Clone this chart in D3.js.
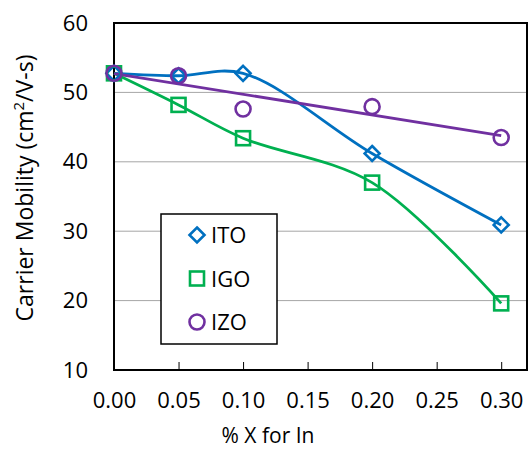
<!DOCTYPE html>
<html><head><meta charset="utf-8">
<script src="https://cdn.jsdelivr.net/npm/d3@7"></script>
<style>body{margin:0;background:#fff}svg{display:block}</style>
</head><body>
<svg id="c" width="530" height="450"></svg>
<script>
const xValues = [0, 0.05, 0.10, 0.20, 0.30];
const itoValues = [52.75, 52.4, 52.75, 41.2, 30.9];
const igoValues = [52.75, 48.2, 43.4, 37.0, 19.6];
const izoValues = [52.75, 52.4, 47.6, 47.95, 43.5];
const xTicks = [0, 0.05, 0.10, 0.15, 0.20, 0.25, 0.30];
const yTicks = [10, 20, 30, 40, 50, 60];
const seriesNames = ["ITO", "IGO", "IZO"];
const seriesColors = ["#0070C0", "#00B050", "#7030A0"];
const xTitle = "% X for In";

const FONT = "'Open Sans', sans-serif";
const m = {left: 114, right: 527, top: 23, bottom: 370};
const svg = d3.select("#c");
const x = d3.scaleLinear().domain([0, 0.32]).range([m.left, m.right]);
const y = d3.scaleLinear().domain([10, 60]).range([m.bottom, m.top]);

// gridlines
svg.append("g").selectAll("line").data(yTicks.filter(v => v > 10 && v < 60)).join("line")
  .attr("x1", m.left).attr("x2", m.right)
  .attr("y1", d => y(d)).attr("y2", d => y(d))
  .attr("stroke", "#A6A6A6").attr("stroke-width", 1);

// x axis ticks (inside)
const xAxis = d3.axisBottom(x).tickValues(xTicks).tickSize(-8).tickPadding(22)
  .tickFormat(d3.format(".2f"));
const gx = svg.append("g").attr("transform", `translate(0,${m.bottom})`).call(xAxis);
gx.select(".domain").remove();
gx.selectAll(".tick line").attr("stroke", "#000").attr("stroke-width", 1);
gx.selectAll(".tick text").attr("font-family", FONT).attr("font-size", 22).attr("fill", "#000");

const yAxis = d3.axisLeft(y).tickValues(yTicks).tickSize(0).tickPadding(26);
const gy = svg.append("g").attr("transform", `translate(${m.left},0)`).call(yAxis);
gy.select(".domain").remove();
gy.selectAll(".tick text").attr("font-family", FONT).attr("font-size", 22).attr("fill", "#000");

// plot border
svg.append("rect").attr("x", m.left).attr("y", m.top)
  .attr("width", m.right - m.left).attr("height", m.bottom - m.top)
  .attr("fill", "none").attr("stroke", "#000").attr("stroke-width", 2);

// series
const series = [itoValues, igoValues, izoValues].map((vals, i) => ({
  name: seriesNames[i], color: seriesColors[i],
  pts: xValues.map((xv, j) => ({x: xv, y: vals[j]}))
}));

const line = d3.line().x(d => x(d.x)).y(d => y(d.y)).curve(d3.curveCatmullRom.alpha(0.5));

// ITO & IGO smoothed lines
[series[0], series[1]].forEach(s => {
  svg.append("path").datum(s.pts).attr("d", line)
    .attr("fill", "none").attr("stroke", s.color).attr("stroke-width", 2.8);
});
// IZO linear trendline (least squares from data)
(function(){
  const pts = series[2].pts;
  const mx = d3.mean(pts, d => d.x), my = d3.mean(pts, d => d.y);
  const sxy = d3.sum(pts, d => (d.x - mx) * (d.y - my));
  const sxx = d3.sum(pts, d => (d.x - mx) ** 2);
  const b = sxy / sxx, a = my - b * mx;
  const ends = [0, 0.30].map(v => ({x: v, y: a + b * v}));
  svg.append("path").datum(ends).attr("d", d3.line().x(d => x(d.x)).y(d => y(d.y)))
    .attr("fill", "none").attr("stroke", series[2].color).attr("stroke-width", 2.8);
})();

function marker(g, i, cx, cy) {
  const c = seriesColors[i];
  if (i === 0) {
    g.append("path").attr("d", `M${cx},${cy-7.5}L${cx+7.5},${cy}L${cx},${cy+7.5}L${cx-7.5},${cy}Z`)
      .attr("fill", "none").attr("stroke", c).attr("stroke-width", 2.6);
  } else if (i === 1) {
    g.append("rect").attr("x", cx - 7).attr("y", cy - 7).attr("width", 14).attr("height", 14)
      .attr("fill", "none").attr("stroke", c).attr("stroke-width", 2.6);
  } else {
    g.append("circle").attr("cx", cx).attr("cy", cy).attr("r", 7.5)
      .attr("fill", "none").attr("stroke", c).attr("stroke-width", 2.6);
  }
}
const mg = svg.append("g");
series.forEach((s, i) => s.pts.forEach(p => marker(mg, i, x(p.x), y(p.y))));

// legend
const lg = svg.append("g");
lg.append("rect").attr("x", 161).attr("y", 214).attr("width", 116).attr("height", 130)
  .attr("fill", "#fff").attr("stroke", "#000").attr("stroke-width", 1.5);
seriesNames.forEach((n, i) => {
  const cy = 235 + i * 43.5;
  marker(lg, i, 197, cy);
  lg.append("text").attr("x", 211).attr("y", cy + 8).text(n)
    .attr("font-family", FONT).attr("font-size", 22).attr("fill", "#000");
});

// axis titles
svg.append("text").attr("x", 268).attr("y", 443).attr("text-anchor", "middle")
  .attr("font-family", FONT).attr("font-size", 21).attr("fill", "#000").text(xTitle);
const yt = svg.append("text").attr("transform", "translate(33,188) rotate(-90)")
  .attr("text-anchor", "middle").attr("font-family", FONT).attr("font-size", 23).attr("fill", "#000");
yt.append("tspan").text("Carrier Mobility (cm");
yt.append("tspan").attr("font-size", 15).attr("dy", -9).text("2");
yt.append("tspan").attr("dy", 9).text("/V-s)");
</script>
</body></html>
